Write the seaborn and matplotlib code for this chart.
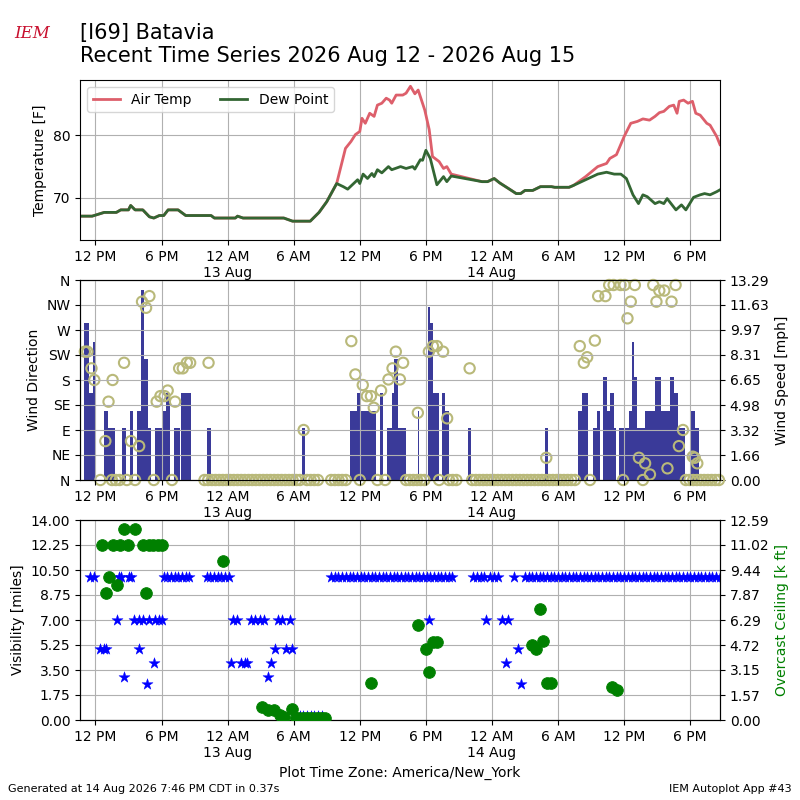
import numpy as np
import pandas as pd
import matplotlib
matplotlib.use("Agg")
import matplotlib.pyplot as plt
import seaborn as sns

# hours since 2026-08-12 00:00 (America/New_York)
dew_t = [10.6, 11.7, 12.8, 13.9, 14.3, 15.0, 15.2, 15.6, 16.3, 16.9, 17.3, 17.8, 18.2, 18.6, 19.5, 20.2,
         22.5, 22.8, 24.7, 24.9, 25.4, 29.1, 29.9, 31.5, 32.3, 33.0, 33.9, 34.5, 34.9, 35.8, 36.0, 36.3,
         36.7, 37.1, 37.3, 37.6, 38.0, 38.6, 38.9, 39.7, 40.2, 40.8, 41.0, 41.5, 41.7, 42.0, 42.4, 43.0,
         43.6, 43.9, 44.3, 47.1, 47.6, 48.2, 48.7, 49.5, 50.2, 50.6, 51.0, 51.7, 52.4, 53.4, 53.7, 55.0,
         55.4, 56.5, 57.6, 58.4, 59.1, 59.7, 60.2, 60.8, 61.3, 61.7, 62.1, 62.8, 63.2, 63.6, 63.9, 64.7,
         65.2, 65.6, 66.3, 66.9, 67.3, 67.8, 68.4, 68.7]
dew_f = [67.1, 67.1, 67.7, 67.7, 68.1, 68.1, 68.8, 68.1, 68.1, 67.0, 66.8, 67.2, 67.2, 68.1, 68.1, 67.2,
         67.2, 66.8, 66.8, 67.1, 66.8, 66.8, 66.3, 66.3, 67.7, 69.4, 72.3, 71.8, 71.4, 72.9, 72.3, 73.8,
         73.1, 73.9, 73.4, 74.5, 74.0, 75.0, 74.5, 75.0, 74.7, 75.0, 74.6, 76.1, 76.0, 77.6, 76.3, 72.1,
         73.4, 72.6, 73.5, 72.6, 72.6, 73.1, 72.4, 71.5, 70.7, 70.7, 71.2, 71.2, 71.8, 71.8, 71.7, 71.7,
         72.0, 72.9, 73.8, 74.1, 73.8, 73.8, 73.1, 70.5, 69.1, 70.5, 70.2, 69.1, 69.4, 69.1, 69.9, 68.1,
         68.9, 68.1, 70.1, 70.5, 70.7, 70.5, 71.0, 71.3]
# air temperature where it departs from the dew point
air1_t = [33.9, 34.7, 35.2, 35.6, 36.0, 36.2, 36.5, 36.9, 37.3, 37.6, 38.0, 38.4, 38.7, 38.9, 39.3, 39.9,
          40.2, 40.6, 41.0, 41.3, 41.9, 42.3, 42.6, 43.2, 43.6, 43.9, 44.3, 47.1]
air1_f = [72.3, 77.9, 79.0, 80.1, 80.6, 82.7, 81.9, 83.5, 83.0, 84.8, 85.1, 85.9, 85.6, 85.1, 86.4, 86.4,
          86.7, 87.8, 86.6, 87.2, 84.0, 80.9, 76.6, 75.8, 74.7, 75.0, 73.8, 72.6]
air2_t = [55.4, 56.5, 57.6, 58.4, 58.7, 59.3, 60.0, 60.6, 61.2, 61.7, 62.3, 62.8, 63.2, 63.6, 64.1, 64.5,
          64.8, 65.0, 65.4, 65.8, 66.2, 66.5, 66.9, 67.5, 67.8, 68.4, 68.7]
air2_f = [72.0, 73.4, 75.0, 75.5, 76.3, 76.9, 79.8, 81.9, 82.2, 82.6, 82.4, 83.0, 83.6, 83.8, 84.6, 84.8,
          83.5, 85.4, 85.6, 85.1, 85.4, 83.5, 83.2, 81.9, 81.6, 79.8, 78.5]

# wind speed bars: start, end (hours), speed (mph)
bar_start = [10.97, 11.41, 11.82, 12.82, 13.12, 14.45, 15.12, 15.79, 16.16, 16.41, 16.79, 17.45, 18.12,
             18.38, 19.12, 19.75, 22.16, 30.79, 35.12, 35.79, 36.04, 37.82, 38.45, 38.93, 39.12, 39.49,
             41.27, 42.16, 42.38, 42.64, 43.49, 43.75, 45.79, 52.82, 55.79, 56.16, 57.19, 57.56, 58.12,
             58.45, 58.75, 59.12, 59.56, 60.41, 60.67, 60.90, 61.16, 61.90, 62.82, 63.38, 64.12, 64.49,
             64.86, 66.08, 66.45]
bar_end = [11.41, 11.79, 12.08, 13.12, 13.75, 14.75, 15.41, 16.16, 16.41, 16.79, 17.08, 18.01, 18.38,
           18.75, 19.67, 20.71, 22.45, 31.04, 35.79, 36.04, 37.45, 38.08, 38.93, 39.12, 39.49, 40.16,
           41.41, 42.38, 42.64, 43.19, 43.75, 44.12, 46.08, 53.12, 56.16, 56.75, 57.56, 57.82, 58.45,
           58.75, 59.12, 59.30, 60.41, 60.67, 60.90, 61.16, 61.90, 62.82, 63.38, 64.12, 64.49, 64.86,
           65.49, 66.45, 66.82]
bar_mph = [10.4, 5.76, 9.2, 4.59, 3.48, 3.48, 4.59, 4.59, 12.6, 8.05, 3.48, 3.48, 4.59,
           5.76, 3.48, 5.76, 3.48, 3.48, 4.59, 5.76, 4.59, 5.76, 3.48, 5.76, 8.05, 3.48,
           4.59, 11.5, 10.4, 5.76, 5.76, 4.59, 3.48, 3.48, 4.59, 5.76, 3.48, 4.59, 6.87,
           4.59, 5.76, 3.48, 3.48, 4.59, 9.2, 6.87, 3.48, 4.59, 6.87, 4.59, 6.87, 5.76,
           3.48, 4.59, 3.48]

# wind direction (deg)
dir_t = [11.04, 11.27, 11.64, 11.9, 12.9, 13.19, 13.56, 14.6, 15.23, 15.97, 16.23, 16.6, 16.9, 17.56,
         17.9, 18.27, 18.56, 19.23, 19.6, 19.93, 20.3, 20.6, 22.27, 30.9, 35.23, 35.6, 36.27, 36.64,
         37.01, 37.27, 37.93, 38.6, 38.97, 39.27, 39.64, 39.93, 41.27, 42.27, 42.64, 43.0, 43.56, 43.93,
         45.97, 52.93, 55.97, 56.34, 56.64, 57.34, 57.64, 58.3, 58.64, 59.04, 59.67, 60.04, 60.3, 60.6,
         60.97, 61.34, 61.9, 62.34, 62.64, 62.93, 63.19, 63.64, 63.93, 64.3, 64.67, 64.97, 65.34, 66.23,
         66.41, 66.64]
dir_deg = [231, 231, 201, 180, 70, 141, 180, 211, 70, 61, 321, 310, 331, 141,
           151, 151, 161, 141, 201, 201, 211, 211, 211, 90, 250, 190, 171, 151,
           151, 130, 161, 181, 201, 231, 181, 211, 121, 231, 241, 241, 231, 111,
           201, 40, 241, 211, 221, 251, 331, 331, 351, 351, 351, 351, 291, 321,
           351, 40, 30, 10, 351, 321, 341, 341, 21, 321, 351, 61, 90, 42,
           40, 30]
# calm observations (direction 0)
calm_single = [12.45, 13.5, 13.85, 14.2, 14.85, 15.6, 17.3, 18.95, 36.0, 37.6, 38.3, 43.2,
               56.9, 59.9, 61.7]
calm_runs = [(21.9, 30.8), (31.2, 32.5), (33.4, 35.0), (40.2, 42.0), (44.1, 44.9),
             (46.2, 55.8), (65.6, 68.7)]

# visibility (miles)
vis_t = [11.53, 11.9, 12.45, 12.82, 13.0, 13.38, 13.93, 14.12, 14.3, 14.6, 15.04, 15.23, 15.53,
         15.97, 15.97, 16.34, 16.64, 16.9, 17.34, 17.45, 17.75, 18.0, 24.3, 24.5, 24.86, 25.23,
         25.6, 25.79, 26.16, 26.53, 26.9, 27.27, 27.64, 27.93, 28.3, 28.56, 28.93, 29.3, 29.67,
         29.86, 42.27, 47.45, 47.8, 48.2, 48.56, 48.93, 49.49, 49.3, 50.04, 50.34, 50.6]
vis_mi = [10, 10, 5, 5, 5, 10, 7, 10, 10, 3, 10, 10, 7,
          5, 7, 7, 2.5, 7, 4, 7, 7, 7, 4, 7, 7, 4,
          4, 4, 7, 7, 7, 7, 3, 4, 5, 7, 7, 5, 7,
          5, 7, 7, 10, 10, 10, 7, 7, 4, 10, 5, 2.5]
vis_runs = [(18.2, 20.8, 10), (22.1, 24.1, 10), (30.2, 32.8, 0.25), (33.4, 44.5, 10),
            (46.3, 47.3, 10), (51.0, 68.7, 10)]

# overcast ceiling (k ft)
ceil_t = [12.64, 13.56, 14.19, 14.97, 14.6, 15.6, 16.34, 16.9, 17.27, 17.64, 18.0, 13.27, 12.93,
          13.93, 16.6, 23.56, 27.08, 27.64, 28.19, 28.75, 29.12, 29.86, 30.2, 30.5, 30.8, 31.1,
          31.4, 31.7, 32.0, 32.3, 32.6, 32.8, 37.0, 41.27, 42.0, 42.27, 42.64, 43.0, 52.34,
          51.6, 51.97, 52.64, 53.0, 53.38, 58.93, 59.38]
ceil_kft = [11.0, 11.0, 11.0, 11.0, 12.0, 12.0, 11.0, 11.0, 11.0, 11.0, 11.0, 9.0, 8.0,
            8.5, 8.0, 10.0, 0.8, 0.6, 0.6, 0.3, 0.2, 0.7, 0.15, 0.15, 0.15, 0.15,
            0.15, 0.15, 0.15, 0.15, 0.15, 0.15, 2.3, 6.0, 4.5, 3.0, 4.9, 4.9, 7.0,
            4.7, 4.5, 5.0, 2.35, 2.35, 2.1, 1.9]

tick_hours = [12, 18, 24, 30, 36, 42, 48, 54, 60, 66]
tick_labels = ["12 PM", "6 PM", "12 AM\n13 Aug", "6 AM", "12 PM", "6 PM",
               "12 AM\n14 Aug", "6 AM", "12 PM", "6 PM"]
dir_labels = ["N", "NE", "E", "SE", "S", "SW", "W", "NW", "N"]
speed_ticks = [0.00, 1.66, 3.32, 4.98, 6.65, 8.31, 9.97, 11.63, 13.29]
vis_ticks = [0.00, 1.75, 3.50, 5.25, 7.00, 8.75, 10.50, 12.25, 14.00]
ceil_ticks = [0.00, 1.57, 3.15, 4.72, 6.29, 7.87, 9.44, 11.02, 12.59]
x_lim = (10.6, 68.7)

# assemble series
dew = pd.DataFrame({"t": dew_t, "f": dew_f})
keep = (dew.t < air1_t[0]) | ((dew.t > air1_t[-1]) & (dew.t < air2_t[0]))
air = pd.concat([dew[keep], pd.DataFrame({"t": air1_t, "f": air1_f}),
                 pd.DataFrame({"t": air2_t, "f": air2_f})]).sort_values("t")

calm_t = list(calm_single)
for a, b in calm_runs:
    calm_t += list(np.arange(a, b + 0.01, 1 / 3))
vt, vv = list(vis_t), list(vis_mi)
for a, b, v in vis_runs:
    r = np.arange(a, b + 0.01, 1 / 3)
    vt += list(r)
    vv += [v] * len(r)

fig = plt.figure(figsize=(8, 8), dpi=100)

def fmt_x(ax):
    ax.set_xlim(*x_lim)
    ax.set_xticks(tick_hours)
    ax.set_xticklabels(tick_labels)
    ax.set_xlabel("")
    ax.grid(True, color="#b0b0b0")

def fmt_y(ax, ticks, lim):
    ax.set_ylim(0, lim)
    ax.set_yticks(ticks)
    ax.set_yticklabels([f"{v:.2f}" for v in ticks])

# Temperature
ax1 = fig.add_axes([0.1, 0.7, 0.8, 0.2])
sns.lineplot(x="t", y="f", data=air, ax=ax1, color="#dd5f6b", lw=2, label="Air Temp")
sns.lineplot(x="t", y="f", data=dew, ax=ax1, color="#336633", lw=2, label="Dew Point")
ax1.set_ylim(63.3, 88.8)
ax1.set_yticks([70, 80])
ax1.set_ylabel("Temperature [F]")
ax1.legend(loc="upper left", ncol=2)
fmt_x(ax1)

# Wind
ax2 = fig.add_axes([0.1, 0.4, 0.8, 0.25])
ax2b = ax2.twinx()
ax2b.bar(bar_start, bar_mph, width=np.array(bar_end) - np.array(bar_start),
         align="edge", color="#3a3a99", lw=0)
fmt_y(ax2b, speed_ticks, 13.29)
ax2b.set_ylabel("Wind Speed [mph]")
ax2.set_zorder(ax2b.get_zorder() + 1)
ax2.patch.set_visible(False)
sns.scatterplot(x=dir_t + calm_t, y=dir_deg + [0] * len(calm_t), ax=ax2, s=55,
                facecolor="none", edgecolor="#b9b97a", linewidth=1.5, clip_on=False)
ax2.set_ylim(0, 360)
ax2.set_yticks(range(0, 361, 45))
ax2.set_yticklabels(dir_labels)
ax2.set_ylabel("Wind Direction")
fmt_x(ax2)

# Visibility / ceiling
ax3 = fig.add_axes([0.1, 0.1, 0.8, 0.25])
ax3b = ax3.twinx()
sns.scatterplot(x=vt, y=vv, ax=ax3, marker="*", s=70, color="blue", edgecolor="blue",
                linewidth=0.3, zorder=3)
fmt_y(ax3, vis_ticks, 14)
ax3.set_ylabel("Visibility [miles]")
fmt_x(ax3)
ax3.set_xlabel("Plot Time Zone: America/New_York")
sns.scatterplot(x=ceil_t, y=ceil_kft, ax=ax3b, s=70, color="green", edgecolor="green", zorder=4)
fmt_y(ax3b, ceil_ticks, 12.59)
ax3b.set_ylabel("Overcast Ceiling [k ft]", color="green")

fig.text(0.1, 0.917, "[I69] Batavia\nRecent Time Series 2026 Aug 12 - 2026 Aug 15",
         fontsize=15, va="bottom", ha="left")
fig.text(0.04, 0.953, "IEM", fontsize=12, color="#c8102e", style="italic", ha="center",
         fontfamily="serif")
fig.text(0.01, 0.01, "Generated at 14 Aug 2026 7:46 PM CDT in 0.37s", fontsize=8)
fig.text(0.99, 0.01, "IEM Autoplot App #43", fontsize=8, ha="right")

fig.savefig("out.png", dpi=100)
